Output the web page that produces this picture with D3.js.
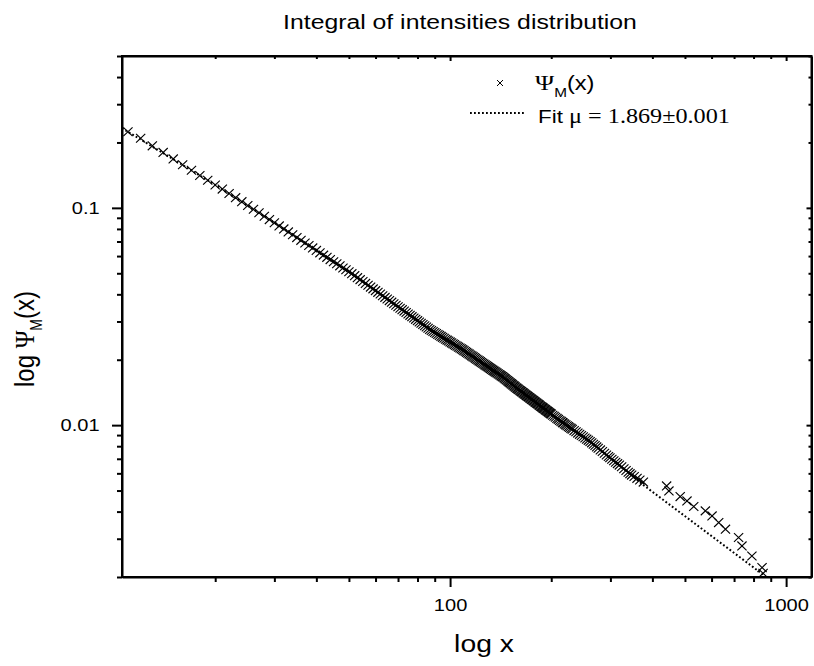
<!DOCTYPE html>
<html>
<head>
<meta charset="utf-8">
<script src="https://cdn.jsdelivr.net/npm/d3@7"></script>
<style>
  body { margin: 0; background: #fff; }
  text { font-family: "Liberation Sans", Arial, sans-serif; fill: #000; }
</style>
</head>
<body>
<div id="chart"></div>
<script>
// integral distribution
var psiX = [11,12,13,14,15,16,17,18,19,20,21,22,23,24,25,26,27,28,29,30,
    31,32,33,34,35,36,37,38,39,40,41,42,43,44,45,46,47,48,49,50,
    51,52,53,54,55,56,57,58,59,60,61,62,63,64,65,66,67,68,69,70,
    71,72,73,74,75,76,77,78,79,80,81,82,83,84,85,86,87,88,89,90,
    91,92,93,94,95,96,97,98,99,100,101,102,103,104,105,106,107,108,109,110,
    111,112,113,114,115,116,117,118,119,120,121,122,123,124,125,126,127,128,129,130,
    131,132,133,134,135,136,137,138,139,140,141,142,143,144,145,146,147,148,149,150,
    151,152,153,154,155,156,157,158,159,160,161,162,163,164,165,166,167,168,169,170,
    171,172,173,174,175,176,177,178,179,180,181,182,183,184,185,186,187,188,189,190,
    191,192,193,194,195,196,197,198,199,200,202,204,206,208,210,212,214,216,217,219,
    221,223,225,227,229,231,234,237,240,243,246,249,252,255,258,261,264,267,270,273,
    276,280,284,288,292,296,299,303,307,311,315,319,324,329,334,339,343,347,353,360,
    367,376,441,448,484,507,531,575,602,630,660,722,739,791,848,854];
var psiY = [0.224,0.209,0.193,0.180,0.168,0.158,0.149,0.141,0.134,0.1275,0.122,0.1165,0.1114,0.1068,0.1025,0.0985,0.0949,0.0915,0.0883,0.0854,
    0.0826,0.0800,0.0775,0.0752,0.0730,0.0709,0.0689,0.0671,0.0654,0.0637,0.0621,0.0606,0.0592,0.0578,0.0565,0.0553,0.0541,0.0529,0.0519,0.0508,
    0.0498,0.04874,0.04772,0.04675,0.04581,0.04490,0.04403,0.04319,0.04238,0.04160,0.04085,0.04012,0.03941,0.03873,0.03807,0.03743,0.03682,0.03622,0.03564,0.03507,
    0.03453,0.03400,0.03349,0.03298,0.03249,0.03202,0.03156,0.03111,0.03068,0.03025,0.02984,0.02944,0.02905,0.02866,0.02829,0.02793,0.02757,0.02727,0.02698,0.02670,
    0.02642,0.02614,0.02588,0.02561,0.02536,0.02511,0.02486,0.02462,0.02438,0.02415,0.02392,0.02370,0.02348,0.02327,0.02306,0.02285,0.02265,0.02245,0.02225,0.02204,
    0.02183,0.02162,0.02142,0.02123,0.02103,0.02084,0.02066,0.02047,0.02029,0.02011,0.01994,0.01977,0.01960,0.01943,0.01927,0.01911,0.01895,0.01880,0.01864,0.01849,
    0.01834,0.01820,0.01805,0.01791,0.01777,0.01764,0.01750,0.01737,0.01724,0.01711,0.01698,0.01685,0.01673,0.01661,0.01646,0.01632,0.01618,0.01605,0.01591,0.01578,
    0.01565,0.01552,0.01540,0.01527,0.01515,0.01503,0.01491,0.01480,0.01469,0.01458,0.01448,0.01437,0.01427,0.01417,0.01407,0.01397,0.01387,0.01378,0.01368,0.01359,
    0.01349,0.01340,0.01331,0.01322,0.01313,0.01305,0.01296,0.01288,0.01279,0.01271,0.01263,0.01255,0.01247,0.01239,0.01231,0.01222,0.01215,0.01207,0.01200,0.01193,
    0.01186,0.01178,0.01171,0.01164,0.01158,0.01151,0.01144,0.01137,0.01131,0.01124,0.01111,0.01099,0.01087,0.01074,0.01063,0.01051,0.01040,0.01029,0.01023,0.01013,
    0.01003,0.00994,0.00984,0.00975,0.00966,0.00957,0.00944,0.00932,0.00919,0.00907,0.00896,0.00884,0.00873,0.00862,0.00851,0.00841,0.00829,0.00817,0.00806,0.00794,
    0.00783,0.00769,0.00756,0.00742,0.00729,0.00717,0.00708,0.00697,0.00686,0.00675,0.00665,0.00655,0.00643,0.00630,0.00618,0.00607,0.00598,0.00589,0.00580,0.00569,
    0.00559,0.00547,0.00525,0.00498,0.00469,0.00448,0.00422,0.00403,0.00382,0.00356,0.00332,0.00304,0.00278,0.00250,0.00221,0.00208];

// fitted curve
var fitX = [10.56, 15, 20, 30, 50, 70, 100, 140, 200, 260, 300, 376, 450, 550, 650, 750, 866];
var fitY = [0.2326, 0.1675, 0.1275, 0.0854, 0.0508, 0.0351, 0.02415, 0.01711, 0.01124, 0.00844, 0.00705, 0.0053, 0.004305, 0.003413, 0.002813, 0.002384, 0.00202];

var xMajor = [100, 1000];
var xMinor = [20, 30, 40, 50, 60, 70, 80, 90, 200, 300, 400, 500, 600, 700, 800, 900];
var yMajor = [0.01, 0.1];
var yMinor = [0.002, 0.003, 0.004, 0.005, 0.006, 0.007, 0.008, 0.009,
    0.02, 0.03, 0.04, 0.05, 0.06, 0.07, 0.08, 0.09, 0.2, 0.3, 0.4, 0.5];

var margin = {top: 56, right: 2.5, bottom: 89, left: 122},
    width = 814 - margin.left - margin.right,
    height = 666 - margin.top - margin.bottom;
var sx = 1.18; // the picture's text is a bit wider than tall

const svg = d3.select('#chart')
    .append('svg')
        .attr('width', 814)
        .attr('height', 666);
const g = svg.append('g')
        .attr('transform', 'translate(' + margin.left + ',' + margin.top + ')');

const x = d3.scaleLog()
    .domain([10.56, 1190])
    .range([0, width]);
const y = d3.scaleLog()
    .domain([0.002, 0.5])
    .range([height, 0]);

let xTicks = xMinor.concat(xMajor);
let yTicks = yMinor.concat(yMajor);
const isMajor = (d) => xMajor.indexOf(d) >= 0 || yMajor.indexOf(d) >= 0;

// frame
g.append('rect')
    .attr('width', width)
    .attr('height', height)
    .attr('fill', 'none')
    .attr('stroke', '#000')
    .attr('stroke-width', 2);

const xAxis = d3.axisBottom(x)
    .tickValues(xTicks)
    .tickSize(10)
    .tickSizeOuter(0)
    .tickPadding(12)
    .tickFormat((d) => isMajor(d) ? d.toString() : '');
const yAxis = d3.axisLeft(y)
    .tickValues(yTicks)
    .tickSize(10)
    .tickSizeOuter(0)
    .tickPadding(9)
    .tickFormat((d) => isMajor(d) ? d.toString() : '');

const gx = g.append('g')
    .attr('class', 'x-axis')
    .attr('transform', 'translate(0,' + height + ')')
    .call(xAxis);
const gy = g.append('g')
    .attr('class', 'y-axis')
    .call(yAxis);

// mirrored ticks on top and right, pointing inward
const gTop = g.append('g')
    .call(d3.axisTop(x).tickValues(xTicks).tickSize(-5).tickSizeOuter(0).tickFormat(''));
const gRight = g.append('g')
    .attr('transform', 'translate(' + width + ',0)')
    .call(d3.axisRight(y).tickValues(yTicks).tickSize(-5).tickSizeOuter(0).tickFormat(''));

gx.selectAll('.tick line').attr('y2', (d) => isMajor(d) ? 10 : 5);
gy.selectAll('.tick line').attr('x2', (d) => isMajor(d) ? -10 : -5);
gTop.selectAll('.tick line').attr('y2', (d) => isMajor(d) ? 5 : 3);
gRight.selectAll('.tick line').attr('x2', (d) => isMajor(d) ? -5 : -3);

[gx, gy, gTop, gRight].forEach((a) => {
    a.select('.domain').attr('stroke-width', 2);
    a.selectAll('.tick line').attr('stroke-width', 2);
});
gx.selectAll('.tick text')
    .attr('font-size', 17)
    .attr('font-family', '"Liberation Sans", Arial, sans-serif')
    .attr('transform', 'scale(' + sx + ',1)');
gy.selectAll('.tick text')
    .attr('font-size', 17)
    .attr('font-family', '"Liberation Sans", Arial, sans-serif')
    .attr('transform', 'scale(' + sx + ',1)');

// fit line
const line = d3.line()
    .x((d) => x(d[0]))
    .y((d) => y(d[1]));

g.append('path')
    .datum(fitX.map((v, i) => [v, fitY[i]]))
    .attr('d', line)
    .attr('fill', 'none')
    .attr('stroke', '#000')
    .attr('stroke-width', 2)
    .attr('stroke-dasharray', '1.8,2.2');

// data markers
const cross = 'M-4.6,-4.4L4.6,4.4M-4.6,4.4L4.6,-4.4';
g.append('g')
    .selectAll('path')
    .data(psiX.map((v, i) => [v, psiY[i]]))
    .enter()
    .append('path')
    .attr('d', cross)
    .attr('transform', (d) => 'translate(' + x(d[0]) + ',' + y(d[1]) + ')')
    .attr('fill', 'none')
    .attr('stroke', '#000')
    .attr('stroke-width', 1.15);

// title and axis titles
svg.append('text')
    .attr('transform', 'translate(460,29) scale(' + sx + ',1)')
    .attr('text-anchor', 'middle')
    .attr('font-size', 21)
    .text('Integral of intensities distribution');

svg.append('text')
    .attr('transform', 'translate(484,652) scale(' + sx + ',1)')
    .attr('text-anchor', 'middle')
    .attr('font-size', 24)
    .text('log x');

const yt = svg.append('text')
    .attr('transform', 'translate(34,339) rotate(-90) scale(1,' + sx + ')')
    .attr('text-anchor', 'middle')
    .attr('font-size', 24);
yt.append('tspan').text('log ');
yt.append('tspan').attr('font-family', '"Liberation Serif", serif').text('\u03A8');
yt.append('tspan').attr('font-size', 14).attr('dy', 7).text('M');
yt.append('tspan').attr('dy', -7).text('(x)');

// legend
const leg = svg.append('g');
leg.append('path')
    .attr('d', 'M-3,-3L3,3M-3,3L3,-3')
    .attr('transform', 'translate(500,83)')
    .attr('stroke', '#000')
    .attr('stroke-width', 1);
const l1 = leg.append('text')
    .attr('transform', 'translate(535,90) scale(' + sx + ',1)')
    .attr('font-size', 20);
l1.append('tspan').attr('font-family', '"Liberation Serif", serif').attr('font-size', 22).text('\u03A8');
l1.append('tspan').attr('font-size', 13).attr('dy', 7).text('M');
l1.append('tspan').attr('dy', -7).text('(x)');

leg.append('line')
    .attr('x1', 470).attr('x2', 525)
    .attr('y1', 113).attr('y2', 113)
    .attr('stroke', '#000')
    .attr('stroke-width', 2)
    .attr('stroke-dasharray', '1.8,2.2');
const l2 = leg.append('text')
    .attr('transform', 'translate(538,123) scale(' + sx + ',1)')
    .attr('font-size', 19);
l2.append('tspan').text('Fit ');
l2.append('tspan').attr('font-family', '"Liberation Serif", serif').attr('font-size', 20.5)
    .text('\u03BC = 1.869\u00B10.001');
</script>
</body>
</html>
